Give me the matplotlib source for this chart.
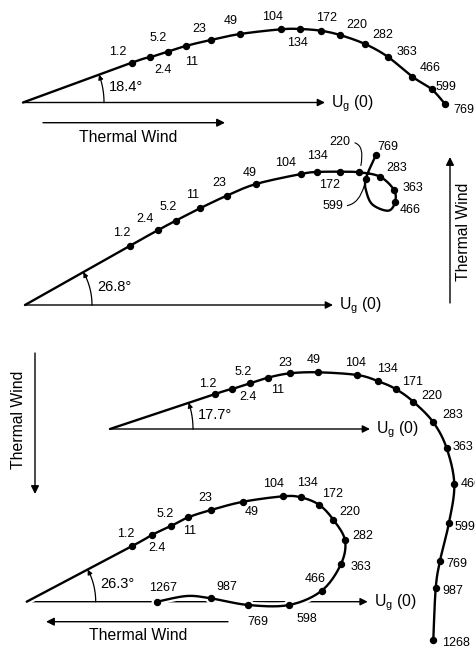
import numpy as np
import matplotlib
matplotlib.use("Agg")
import matplotlib.pyplot as plt
import matplotlib.patheffects as pe

plt.rcParams['font.family'] = ['Liberation Sans', 'DejaVu Sans']
plt.rcParams['mathtext.fontset'] = 'custom'
plt.rcParams['mathtext.rm'] = 'Liberation Sans'

# === Hodograph data (u, v relative to the surface point, v up) ===
p1_labels = ["1.2", "2.4", "5.2", "11", "23", "49", "104", "134", "172", "220", "282", "363", "466", "599", "769"]
p1_u = [108.7, 127.0, 144.7, 162.7, 187.7, 217.0, 258.0, 277.0, 297.7, 317.0, 342.0, 364.7, 389.3, 408.7, 422.0]
p1_v = [39.8, 45.2, 50.8, 56.5, 62.5, 68.5, 73.2, 73.5, 71.8, 67.5, 58.5, 45.8, 25.8, 13.2, -1.5]
p1_angle = "18.4°"

p2_labels = ["1.2", "2.4", "5.2", "11", "23", "49", "104", "134", "172", "220", "283", "363", "466", "599", "769"]
p2_u = [105.0, 133.3, 150.7, 175.0, 201.7, 231.0, 276.0, 291.7, 315.0, 334.3, 355.0, 369.0, 370.0, 340.7, 351.0]
p2_v = [59.3, 75.0, 84.3, 96.7, 109.3, 121.0, 131.0, 133.0, 133.3, 132.7, 128.3, 115.0, 102.7, 126.0, 150.0]
# unlabelled bends of the loop between 466 and 599
p2_loop_u = [363.3, 348.0, 341.7]
p2_loop_v = [94.3, 100.0, 112.0]
p2_angle = "26.8°"

p3_labels = ["1.2", "2.4", "5.2", "11", "23", "49", "104", "134", "171", "220", "283", "363", "466", "599", "769", "987", "1268"]
p3_u = [105.0, 122.3, 140.0, 157.7, 180.0, 208.3, 247.3, 267.7, 285.7, 303.3, 323.3, 336.7, 344.3, 339.0, 330.0, 325.7, 323.3]
p3_v = [35.0, 40.0, 45.7, 51.3, 55.7, 56.7, 54.0, 48.0, 40.0, 27.3, 6.7, -19.3, -55.3, -93.7, -131.7, -159.3, -211.0]
p3_angle = "17.7°"

p4_labels = ["1.2", "2.4", "5.2", "11", "23", "49", "104", "134", "172", "220", "282", "363", "466", "598", "769", "987", "1267"]
p4_u = [105.6, 125.0, 144.3, 161.6, 184.3, 216.6, 256.6, 274.0, 292.3, 306.6, 318.3, 314.3, 295.0, 262.3, 221.6, 184.3, 130.6]
p4_v = [55.7, 66.7, 75.7, 84.4, 91.7, 100.0, 105.4, 104.4, 97.0, 82.0, 61.4, 37.7, 11.0, -3.3, -3.3, 3.4, 0.0]
# unlabelled bend between 987 and 1267
p4_bend_u = [160.0]
p4_bend_v = [5.7]
p4_angle = "26.3°"

# === Label offsets (screen px) ===
p1_off = [(-14, -11), (13, 13), (-10, -14), (6, 16), (-11, -11), (-9, -13), (-8, -12), (-3, 14),
          (6, -13), (17, -10), (18, -9), (19, -5), (18, -9), (14, -2), (19, 6)]
p2_off = [(-8, -13), (-13, -11), (-8, -14), (-7, -13), (-7, -13), (-6, -11), (-15, -11), (1, -16),
          (-10, 13), (-19, -30), (17, -9), (19, -2), (15, 8), (-33, 27), (12, -8)]
p3_off = [(-7, -10), (16, 8), (-7, -11), (10, 12), (-5, -10), (-5, -12), (-2, -12), (10, -12),
          (17, -7), (19, -6), (19, -7), (16, -1), (17, 0), (16, 4), (17, 3), (17, 3), (23, 3)]
p4_off = [(-7, -12), (5, 13), (-6, -12), (1, 14), (-6, -12), (8, 10), (-10, -12), (7, -14),
          (14, -11), (17, -8), (18, -4), (20, 3), (-7, -12), (18, 14), (10, 17), (16, -11), (6, -14)]

NUM_FS = 9
BIG_FS = 10.5
TW_FS = 11.3


def catmull(xs, ys, n=16):
    P = np.column_stack([xs, ys]).astype(float)
    P = np.vstack([P[0], P, P[-1]])
    t = np.linspace(0, 1, n)[:, None]
    out = []
    for i in range(1, len(P) - 2):
        p0, p1, p2, p3 = P[i - 1], P[i], P[i + 1], P[i + 2]
        seg = 0.5 * (2 * p1 + (-p0 + p2) * t + (2 * p0 - 5 * p1 + 4 * p2 - p3) * t ** 2
                     + (-p0 + 3 * p1 - 3 * p2 + p3) * t ** 3)
        out.append(seg if i == 1 else seg[1:])
    return np.vstack(out)


def draw_panel(ax, ox, oy, labels, u, v, offs, angle_txt, arc_r, ug_len,
               bends=None, halo=False, leaders=()):
    u = np.asarray(u)
    v = np.asarray(v)
    # base vector U_g(0)
    ax.annotate("", xy=(ox + ug_len, oy), xytext=(ox, oy),
                arrowprops=dict(arrowstyle="-|>", lw=1.0, color="k",
                                mutation_scale=11, shrinkA=0, shrinkB=0), zorder=1)
    ax.text(ox + ug_len + 6, oy + 1, r"U$_\mathregular{g}$ (0)", fontsize=TW_FS,
            ha="left", va="center")

    # hodograph trace
    tu = [0.0] + list(u)
    tv = [0.0] + list(v)
    if bends:
        after, bu, bv = bends
        k = labels.index(after) + 2
        tu = tu[:k] + list(bu) + tu[k:]
        tv = tv[:k] + list(bv) + tv[k:]
    curve = catmull(ox + np.array(tu), oy - np.array(tv))
    effects = [pe.Stroke(linewidth=5, foreground="white"), pe.Normal()] if halo else None
    if halo:
        ax.plot(ox + u, oy - v, "o", ms=7.5, color="white", zorder=2)
    ax.plot(curve[:, 0], curve[:, 1], color="k", lw=1.7, zorder=3,
            solid_capstyle="round", path_effects=effects)
    ax.plot(ox + u, oy - v, "o", ms=4.3, color="k", zorder=4)

    for lab, x, y, (dx, dy) in zip(labels, ox + u, oy - v, offs):
        if lab in leaders:
            continue
        ax.text(x + dx, y + dy, lab, fontsize=NUM_FS, ha="center", va="center")

    # turning angle
    theta = np.arctan2(v[0], u[0])
    ts = np.linspace(0, theta, 40)
    ax.plot(ox + arc_r * np.cos(ts), oy - arc_r * np.sin(ts), color="k", lw=0.9)
    ax.annotate("", xy=(ox + arc_r * np.cos(ts[-1]), oy - arc_r * np.sin(ts[-1])),
                xytext=(ox + arc_r * np.cos(ts[-8]), oy - arc_r * np.sin(ts[-8])),
                arrowprops=dict(arrowstyle="-|>", lw=0.9, color="k",
                                mutation_scale=7, shrinkA=0, shrinkB=0))
    ax.text(ox + arc_r + 5, oy - arc_r * np.sin(theta) * 0.55, angle_txt,
            fontsize=BIG_FS, ha="left", va="center")


fig = plt.figure(figsize=(4.75, 6.51), dpi=100)
ax = fig.add_axes([0, 0, 1, 1])
ax.set_xlim(0, 475)
ax.set_ylim(651, 0)
ax.axis("off")

arrow_kw = dict(arrowstyle="-|>", lw=1.0, color="k", mutation_scale=12, shrinkA=0, shrinkB=0)

# panel 1
draw_panel(ax, 23, 102.5, p1_labels, p1_u, p1_v, p1_off, p1_angle, 81, 302)
ax.annotate("", xy=(225, 122.7), xytext=(43, 122.7), arrowprops=arrow_kw)
ax.text(128, 137, "Thermal Wind", fontsize=TW_FS, ha="center", va="center")

# panel 2
draw_panel(ax, 25, 305, p2_labels, p2_u, p2_v, p2_off, p2_angle, 67, 308,
           bends=("466", p2_loop_u, p2_loop_v), leaders=("220", "599"))
for lab, conn, shrink in (("220", "angle3,angleA=0,angleB=75", 5),
                          ("599", "angle3,angleA=0,angleB=80", 5)):
    i = p2_labels.index(lab)
    px, py = 25 + p2_u[i], 305 - p2_v[i]
    dx, dy = p2_off[i]
    ax.annotate(lab, xy=(px, py), xytext=(px + dx, py + dy), fontsize=NUM_FS,
                ha="center", va="center",
                arrowprops=dict(arrowstyle="-", lw=0.8, color="k", shrinkA=1, shrinkB=shrink,
                                relpos=(1.0, 0.5), connectionstyle=conn))
ax.annotate("", xy=(450, 157), xytext=(450, 303), arrowprops=arrow_kw)
ax.text(463, 232, "Thermal Wind", fontsize=TW_FS, rotation=90, ha="center", va="center")

# panel 3
draw_panel(ax, 110, 429, p3_labels, p3_u, p3_v, p3_off, p3_angle, 83, 260)
ax.annotate("", xy=(35, 494), xytext=(35, 353), arrowprops=arrow_kw)
ax.text(19, 420, "Thermal Wind", fontsize=TW_FS, rotation=90, ha="center", va="center")

# panel 4
draw_panel(ax, 26.7, 601.7, p4_labels, p4_u, p4_v, p4_off, p4_angle, 69, 341,
           bends=("987", p4_bend_u, p4_bend_v), halo=True)
ax.annotate("", xy=(46, 621.7), xytext=(228, 621.7), arrowprops=arrow_kw)
ax.text(138, 635, "Thermal Wind", fontsize=TW_FS, ha="center", va="center")

fig.savefig("out.png", dpi=100)
